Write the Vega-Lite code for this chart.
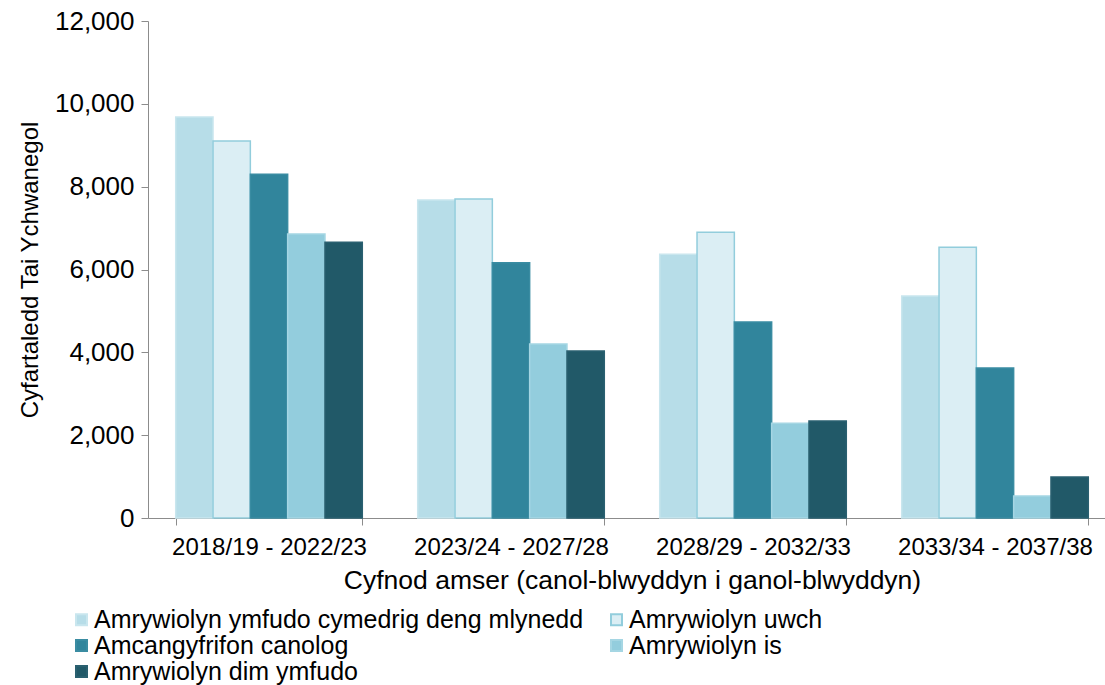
{
  "$schema": "https://vega.github.io/schema/vega-lite/v6.json",
  "width": 957,
  "height": 497,
  "autosize": {"type": "none"},
  "padding": {"left": 148, "top": 21, "right": 0, "bottom": 167},
  "background": "white",
  "config": {
    "view": {"stroke": null},
    "font": "Liberation Sans",
    "axis": {"labelFont": "Liberation Sans", "titleFont": "Liberation Sans", "labelColor": "#000000", "titleColor": "#000000", "titleFontWeight": "normal", "domainColor": "#8c8c8c", "tickColor": "#8c8c8c", "grid": false},
    "legend": {"labelFont": "Liberation Sans", "labelColor": "#000000"}
  },
  "data": {
    "values": [
      {"period": "2018/19 - 2022/23", "series": "Amrywiolyn ymfudo cymedrig deng mlynedd", "value": 9680},
      {"period": "2018/19 - 2022/23", "series": "Amrywiolyn uwch", "value": 9100},
      {"period": "2018/19 - 2022/23", "series": "Amcangyfrifon canolog", "value": 8300},
      {"period": "2018/19 - 2022/23", "series": "Amrywiolyn is", "value": 6860},
      {"period": "2018/19 - 2022/23", "series": "Amrywiolyn dim ymfudo", "value": 6660},
      {"period": "2023/24 - 2027/28", "series": "Amrywiolyn ymfudo cymedrig deng mlynedd", "value": 7680},
      {"period": "2023/24 - 2027/28", "series": "Amrywiolyn uwch", "value": 7700},
      {"period": "2023/24 - 2027/28", "series": "Amcangyfrifon canolog", "value": 6160},
      {"period": "2023/24 - 2027/28", "series": "Amrywiolyn is", "value": 4200},
      {"period": "2023/24 - 2027/28", "series": "Amrywiolyn dim ymfudo", "value": 4030},
      {"period": "2028/29 - 2032/33", "series": "Amrywiolyn ymfudo cymedrig deng mlynedd", "value": 6370},
      {"period": "2028/29 - 2032/33", "series": "Amrywiolyn uwch", "value": 6900},
      {"period": "2028/29 - 2032/33", "series": "Amcangyfrifon canolog", "value": 4730},
      {"period": "2028/29 - 2032/33", "series": "Amrywiolyn is", "value": 2290},
      {"period": "2028/29 - 2032/33", "series": "Amrywiolyn dim ymfudo", "value": 2340},
      {"period": "2033/34 - 2037/38", "series": "Amrywiolyn ymfudo cymedrig deng mlynedd", "value": 5360},
      {"period": "2033/34 - 2037/38", "series": "Amrywiolyn uwch", "value": 6540},
      {"period": "2033/34 - 2037/38", "series": "Amcangyfrifon canolog", "value": 3620},
      {"period": "2033/34 - 2037/38", "series": "Amrywiolyn is", "value": 530},
      {"period": "2033/34 - 2037/38", "series": "Amrywiolyn dim ymfudo", "value": 990}
    ]
  },
  "mark": {"type": "bar", "strokeWidth": 1.5},
  "encoding": {
    "x": {
      "field": "period", "type": "nominal", "sort": null,
      "scale": {"range": [0, 968], "paddingInner": 0.229, "paddingOuter": 0.1145},
      "axis": {"title": "Cyfnod amser (canol-blwyddyn i ganol-blwyddyn)", "labelAngle": 0, "labelFontSize": 24, "titleFontSize": 26.5, "tickBand": "extent", "tickSize": 7, "labelPadding": 10, "titlePadding": 8, "labelLimit": 400}
    },
    "xOffset": {"field": "series", "type": "nominal", "sort": null, "scale": {"paddingInner": 0, "paddingOuter": 0}},
    "y": {
      "field": "value", "type": "quantitative",
      "scale": {"domain": [0, 12000], "nice": false},
      "axis": {"title": "Cyfartaledd Tai Ychwanegol", "values": [0, 2000, 4000, 6000, 8000, 10000, 12000], "format": ",d", "labelFontSize": 26, "titleFontSize": 24, "tickSize": 7, "labelPadding": 7, "titlePadding": 12}
    },
    "fill": {
      "field": "series", "type": "nominal", "sort": null,
      "scale": {
        "domain": ["Amrywiolyn ymfudo cymedrig deng mlynedd", "Amrywiolyn uwch", "Amcangyfrifon canolog", "Amrywiolyn is", "Amrywiolyn dim ymfudo"],
        "range": ["#B7DDE8", "#DBEEF4", "#31859C", "#93CDDD", "#215968"]
      },
      "legend": {"orient": "none", "direction": "horizontal", "legendX": -79, "legendY": 586, "padding": 0, "columns": 2, "columnPadding": 20, "rowPadding": 0, "title": null, "symbolType": "square", "symbolSize": 121, "labelFontSize": 25, "labelOffset": 0, "labelLimit": 700, "symbolStrokeWidth": 2}
    },
    "stroke": {
      "field": "series", "type": "nominal", "sort": null,
      "scale": {
        "domain": ["Amrywiolyn ymfudo cymedrig deng mlynedd", "Amrywiolyn uwch", "Amcangyfrifon canolog", "Amrywiolyn is", "Amrywiolyn dim ymfudo"],
        "range": ["#C9E6EE", "#92CDDC", "#3A8CA2", "#A5D6E3", "#2A6070"]
      },
      "legend": {"orient": "none", "direction": "horizontal", "legendX": -79, "legendY": 586, "padding": 0, "columns": 2, "columnPadding": 20, "rowPadding": 0, "title": null, "symbolType": "square", "symbolSize": 121, "labelFontSize": 25, "labelOffset": 0, "labelLimit": 700, "symbolStrokeWidth": 2}
    }
  }
}
